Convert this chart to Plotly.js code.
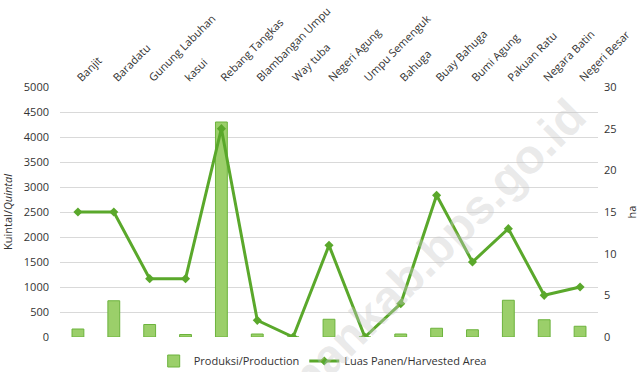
<!DOCTYPE html>
<html>
<head>
<meta charset="utf-8">
<script src="https://cdn.plot.ly/plotly-3.0.1.min.js"></script>
<style>html,body{margin:0;padding:0;background:#fff;}#chart{width:639px;height:372px;}</style>
</head>
<body>
<div id="chart"></div>
<script>
const categories = ["Banjit","Baradatu","Gunung Labuhan","kasui","Rebang Tangkas","Blambangan Umpu","Way tuba","Negeri Agung","Umpu Semenguk","Bahuga","Buay Bahuga","Bumi Agung","Pakuan Ratu","Negara Batin","Negeri Besar"];
const production = [160, 725, 250, 50, 4300, 60, 0, 355, 0, 60, 175, 145, 735, 345, 215];
const harvestedArea = [15, 15, 7, 7, 25, 2, 0, 11, 0, 4, 17, 9, 13, 5, 6];
const leftTicks = [0,500,1000,1500,2000,2500,3000,3500,4000,4500,5000];
const rightTicks = [0,5,10,15,20,25,30];

const font = {family: "Open Sans, Noto Sans, sans-serif", size: 11, color: "#333"};

const traces = [
  {
    type: "bar", name: "Produksi/Production", x: categories, y: production,
    width: 0.33,
    marker: {color: "#9bcf6a", line: {color: "#6cb33d", width: 1}}
  },
  {
    type: "scatter", mode: "lines+markers", name: "Luas Panen/Harvested Area",
    x: categories, y: harvestedArea, yaxis: "y2",
    line: {color: "#5aa82b", width: 3},
    marker: {symbol: "diamond", size: 7, color: "#5aa82b"}
  }
];

const layout = {
  width: 639, height: 372,
  margin: {l: 60, r: 41, t: 87, b: 35, autoexpand: false},
  paper_bgcolor: "#fff", plot_bgcolor: "#fff",
  font: font,
  showlegend: true,
  legend: {orientation: "h", xref: "container", yref: "container", x: 0.505, xanchor: "center", y: 11 / 372, yanchor: "middle", font: font, traceorder: "normal"},
  xaxis: {
    side: "top", tickangle: -45, showgrid: false, zeroline: false, showline: false,
    ticks: "", tickfont: font, type: "category", automargin: false,
    range: [-0.5, categories.length - 0.5]
  },
  yaxis: {
    range: [0, 5000], tickvals: leftTicks, ticktext: leftTicks.map(String),
    gridcolor: "#d9d9d9", gridwidth: 1, zeroline: false, showline: false,
    tickfont: font, ticks: "", ticklen: 0, ticklabelstandoff: 10,
    title: {text: "Kuintal/<i>Quintal</i>", font: font, standoff: 8},
    automargin: false
  },
  yaxis2: {
    overlaying: "y", side: "right", range: [0, 30], tickvals: rightTicks,
    showgrid: false, zeroline: false, showline: false, tickfont: font, ticklabelstandoff: 5,
    title: {text: "ha", font: font, standoff: 14}, automargin: false
  },
  annotations: [{
    text: "waykanankab.bps.go.id", xref: "paper", yref: "paper",
    x: (386 - 60) / 538, y: (337 - 298) / 250, xanchor: "center", yanchor: "middle",
    showarrow: false, textangle: -45,
    font: {family: "Liberation Sans, Arial, sans-serif", size: 48, color: "rgba(200,200,200,0.4)", weight: "bold"}
  }]
};

Plotly.newPlot("chart", traces, layout, {displayModeBar: false, staticPlot: true});
</script>
</body>
</html>
